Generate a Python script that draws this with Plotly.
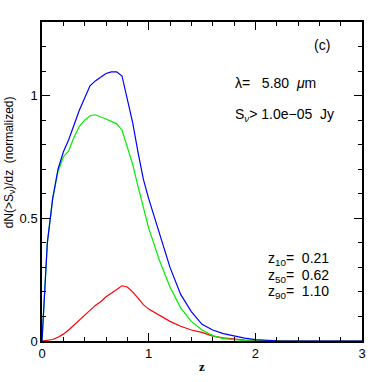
import plotly.graph_objects as go

# redshift grid
z = [0, 0.05, 0.1, 0.15, 0.2, 0.25, 0.3, 0.35, 0.4, 0.45, 0.5, 0.55, 0.6, 0.65, 0.7,
     0.75, 0.8, 0.85, 0.9, 0.95, 1.0, 1.1, 1.2, 1.3, 1.4, 1.5, 1.6, 1.7, 1.8, 1.9,
     2.0, 2.2, 2.5, 3.0]

blue = [0, 0.40, 0.58, 0.70, 0.77, 0.82, 0.88, 0.94, 0.99, 1.04, 1.06, 1.075, 1.09,
        1.097, 1.097, 1.08, 0.99, 0.89, 0.77, 0.66, 0.58, 0.44, 0.30, 0.19, 0.12,
        0.068, 0.045, 0.03, 0.02, 0.012, 0.006, 0.001, 0, 0]

green = [0, 0.40, 0.58, 0.69, 0.75, 0.775, 0.83, 0.875, 0.90, 0.918, 0.922, 0.915,
         0.905, 0.895, 0.885, 0.86, 0.79, 0.72, 0.63, 0.54, 0.46, 0.33, 0.22, 0.135,
         0.08, 0.045, 0.022, 0.01, 0.005, 0.002, 0.001, 0, 0, 0]

red = [0, 0.002, 0.006, 0.015, 0.028, 0.045, 0.065, 0.085, 0.105, 0.125, 0.145, 0.16,
       0.18, 0.195, 0.21, 0.225, 0.22, 0.20, 0.175, 0.148, 0.13, 0.105, 0.08, 0.06,
       0.045, 0.035, 0.02, 0.013, 0.008, 0.004, 0.002, 0, 0, 0]

fig = go.Figure()
for ys, col in [(red, "#ff0000"), (green, "#00ee00"), (blue, "#0000ff")]:
    fig.add_trace(go.Scatter(x=z, y=ys, mode="lines", line=dict(color=col, width=1.2),
                             showlegend=False, hoverinfo="skip"))

tfont = dict(family="Liberation Sans", size=13, color="black")

fig.update_xaxes(range=[0, 3], tickmode="linear", tick0=0, dtick=1, ticks="inside",
                 ticklen=8, tickcolor="black",
                 minor=dict(tickmode="linear", tick0=0, dtick=0.2, ticks="inside",
                            ticklen=4, tickcolor="black"),
                 mirror="allticks", showline=True, linecolor="black", linewidth=1.5,
                 showgrid=False, zeroline=False, tickfont=tfont, automargin=False,
                 title=dict(text="<b>z</b>", font=dict(family="Liberation Serif", size=13,
                                                        color="black"), standoff=2))
fig.update_yaxes(range=[0, 1.3], tickmode="linear", tick0=0, dtick=0.5, ticks="inside",
                 ticklen=8, tickcolor="black",
                 minor=dict(tickmode="linear", tick0=0, dtick=0.1, ticks="inside",
                            ticklen=4, tickcolor="black"),
                 mirror="allticks", showline=True, linecolor="black", linewidth=1.5,
                 showgrid=False, zeroline=False, tickfont=tfont, automargin=False)

# y-axis label, placed as in the original (slightly above centre)
fig.add_annotation(text="dN(>S<sub>ν</sub>)/dz  (normalized)", textangle=-90,
                   x=-0.1, y=0.56, xref="paper", yref="paper", showarrow=False,
                   xanchor="center", yanchor="middle",
                   font=dict(family="Liberation Sans", size=12, color="black"))

afont = dict(family="Liberation Sans", size=14, color="black")
notes = [
    ("(c)", 0.845, 0.928),
    ("λ=   5.80  <i>μ</i>m", 0.597, 0.809),
    ("S<sub><i>ν</i></sub>> 1.0e−05  Jy", 0.597, 0.708),
    ("z<sub>10</sub>=  0.21", 0.70, 0.257),
    ("z<sub>50</sub>=  0.62", 0.70, 0.205),
    ("z<sub>90</sub>=  1.10", 0.70, 0.153),
]
for txt, xx, yy in notes:
    fig.add_annotation(text=txt, x=xx, y=yy, xref="paper", yref="paper",
                       xanchor="left", yanchor="middle", showarrow=False, font=afont)

fig.update_layout(width=382, height=382, margin=dict(l=42, r=20, t=22, b=41),
                  plot_bgcolor="white", paper_bgcolor="white",
                  font=dict(color="black"))

# drop the default page margin so the figure fills the window
fig.write_html("out.html", config={"displayModeBar": False},
               post_script="document.body.style.margin='0';"
                           "document.body.style.overflow='hidden';")
